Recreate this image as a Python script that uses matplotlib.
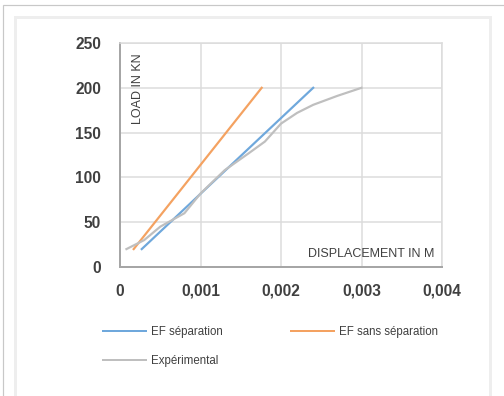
import matplotlib.pyplot as plt
from matplotlib.lines import Line2D
from matplotlib.patches import Rectangle

# EF séparation
sep_x = [0.00027, 0.0024]
sep_y = [20, 200]
# EF sans séparation
sans_x = [0.00017, 0.00176]
sans_y = [20, 200]
# Expérimental
exp_x = [0.00008, 0.0003, 0.0005, 0.0008, 0.001, 0.0013, 0.0016, 0.0018, 0.002, 0.0022, 0.0024, 0.0027, 0.003]
exp_y = [20, 30, 45, 60, 82, 108, 127, 140, 160, 172, 181, 191, 200]

x_ticks = [0, 0.001, 0.002, 0.003, 0.004]
x_labels = ['0', '0,001', '0,002', '0,003', '0,004']
y_ticks = [0, 50, 100, 150, 200, 250]

blue = '#6fa8dc'
orange = '#f4a261'
gray = '#bfbfbf'
txt = '#404040'

plt.rcParams['font.family'] = ['Liberation Sans', 'DejaVu Sans']

fig = plt.figure(figsize=(7, 5.5), dpi=72)

# outer frames
fig.patches.append(Rectangle((3 / 504, -0.1), 1.2, (396 - 5) / 396 + 0.1, transform=fig.transFigure,
                             fill=False, edgecolor='#c8c8c8', lw=1.2))
fig.patches.append(Rectangle((15 / 504, -0.1), (490 - 15) / 504, (396 - 17) / 396 + 0.1,
                             transform=fig.transFigure, fill=False, edgecolor='#eeeeee', lw=3))

ax = fig.add_axes([120 / 504, (396 - 267) / 396, (442 - 120) / 504, (267 - 43) / 396])

ax.plot(sep_x, sep_y, color=blue, lw=2.2)
ax.plot(sans_x, sans_y, color=orange, lw=2.2)
ax.plot(exp_x, exp_y, color=gray, lw=2.2)

ax.set_xlim(0, 0.004)
ax.set_ylim(0, 250)
ax.set_xticks(x_ticks)
ax.set_xticklabels(x_labels)
ax.set_yticks(y_ticks)
ax.grid(True, color='#dcdcdc', lw=1.5)
ax.set_axisbelow(True)
for s in ['top', 'right']:
    ax.spines[s].set_color('#dcdcdc')
    ax.spines[s].set_linewidth(1.5)
for s in ['left', 'bottom']:
    ax.spines[s].set_color('#a6a6a6')
    ax.spines[s].set_linewidth(2)
ax.tick_params(length=0, labelsize=15.5, labelcolor=txt)
ax.tick_params(axis='x', pad=17)
ax.tick_params(axis='y', pad=19)
for lab in ax.get_xticklabels() + ax.get_yticklabels():
    lab.set_fontweight('bold')

ax.text(0.057, 0.795, 'LOAD IN KN', transform=ax.transAxes, rotation=90, ha='center', va='center',
        fontsize=12.5, color=txt)
ax.text(0.975, 0.06, 'DISPLACEMENT IN M', transform=ax.transAxes, ha='right', va='center',
        fontsize=12.5, color=txt)

handles = [Line2D([], [], color=blue, lw=2), Line2D([], [], color=orange, lw=2),
           Line2D([], [], color=gray, lw=2)]
labels = ['EF séparation', 'EF sans séparation', 'Expérimental']
fig.legend(handles[:2], labels[:2], loc='center left', bbox_to_anchor=(98 / 504, 1 - 332 / 396),
           ncol=2, frameon=False, fontsize=11.5, labelcolor=txt, handlelength=3.8, handletextpad=0.4,
           columnspacing=5.9, borderaxespad=0)
fig.legend(handles[2:], labels[2:], loc='center left', bbox_to_anchor=(98 / 504, 1 - 361 / 396),
           frameon=False, fontsize=11.5, labelcolor=txt, handlelength=3.8, handletextpad=0.4,
           borderaxespad=0)

fig.savefig('out.png', dpi=72)
